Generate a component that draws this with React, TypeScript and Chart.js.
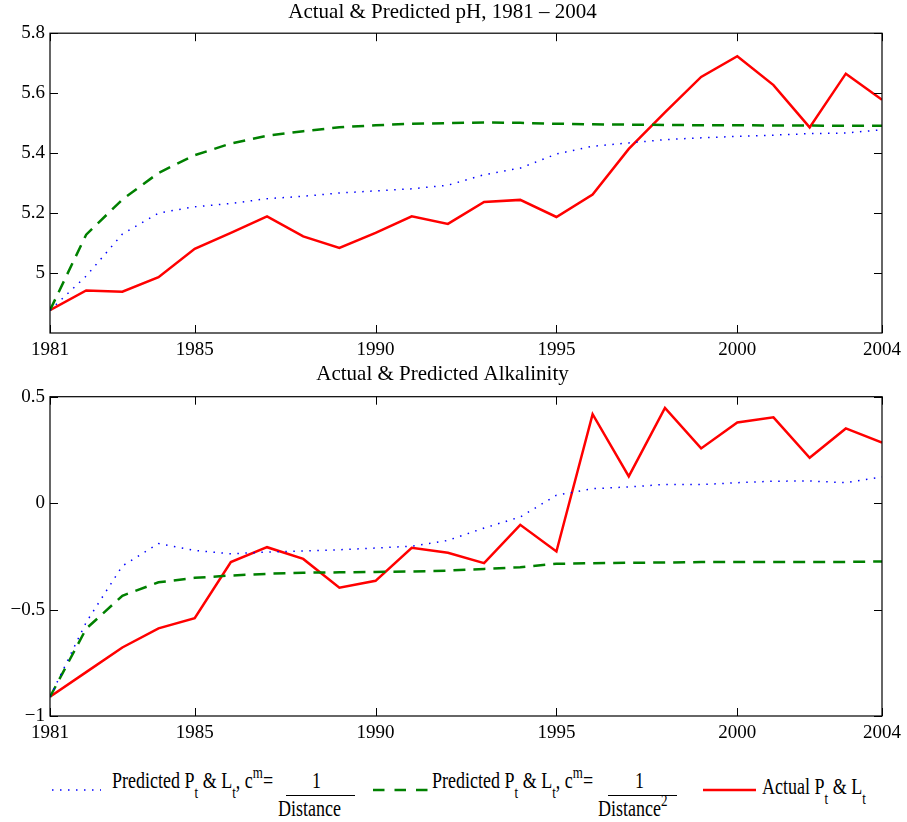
import React, { useEffect, useRef } from 'react';
import { Chart, registerables } from 'chart.js';
Chart.register(...registerables);

const FONT = "'Liberation Serif', 'Times New Roman', serif";

const years = [1981, 1982, 1983, 1984, 1985, 1986, 1987, 1988, 1989, 1990, 1991, 1992,
  1993, 1994, 1995, 1996, 1997, 1998, 1999, 2000, 2001, 2002, 2003, 2004];
const xTicks = [1981, 1985, 1990, 1995, 2000, 2004];

const phActual = [4.876, 4.942, 4.938, 4.986, 5.081, 5.134, 5.189, 5.122, 5.084, 5.134, 5.189, 5.164,
  5.237, 5.244, 5.187, 5.262, 5.414, 5.536, 5.654, 5.723, 5.627, 5.486, 5.665, 5.578];
const phPredDist = [4.876, 4.99, 5.13, 5.2, 5.221, 5.232, 5.248, 5.256, 5.267, 5.274, 5.281, 5.293,
  5.328, 5.35, 5.397, 5.423, 5.434, 5.445, 5.451, 5.456, 5.46, 5.465, 5.467, 5.478];
const phPredDist2 = [4.876, 5.128, 5.245, 5.334, 5.393, 5.432, 5.458, 5.473, 5.486, 5.493, 5.498, 5.5,
  5.502, 5.501, 5.498, 5.496, 5.495, 5.494, 5.493, 5.493, 5.492, 5.492, 5.491, 5.491];
const phYTicks = [5, 5.2, 5.4, 5.6, 5.8];

const alkActual = [-0.91, -0.794, -0.678, -0.588, -0.541, -0.277, -0.207, -0.262, -0.397, -0.365, -0.21, -0.233,
  -0.282, -0.102, -0.227, 0.418, 0.126, 0.447, 0.257, 0.379, 0.403, 0.213, 0.351, 0.285];
const alkPredDist = [-0.91, -0.56, -0.295, -0.19, -0.222, -0.238, -0.23, -0.225, -0.219, -0.211, -0.202, -0.175,
  -0.117, -0.065, 0.037, 0.068, 0.076, 0.088, 0.087, 0.096, 0.103, 0.104, 0.096, 0.123];
const alkPredDist2 = [-0.91, -0.59, -0.435, -0.372, -0.351, -0.34, -0.332, -0.327, -0.325, -0.323, -0.321, -0.317,
  -0.309, -0.301, -0.285, -0.282, -0.28, -0.279, -0.277, -0.277, -0.276, -0.276, -0.276, -0.274];
const alkYTicks = [-1, -0.5, 0, 0.5];

const phTitle = 'Actual & Predicted pH, 1981 \u2013 2004';
const alkTitle = 'Actual & Predicted Alkalinity';

const boxPlugin = {
  id: 'matlabBox',
  afterDraw(chart: any) {
    const { ctx, chartArea: a, scales } = chart;
    const tl = 8;
    ctx.save();
    ctx.strokeStyle = '#000';
    ctx.lineWidth = 1.2;
    ctx.strokeRect(a.left, a.top, a.right - a.left, a.bottom - a.top);
    ctx.beginPath();
    scales.x.ticks.forEach((t: any) => {
      const px = Math.round(scales.x.getPixelForValue(t.value)) + 0.5;
      ctx.moveTo(px, a.top); ctx.lineTo(px, a.top + tl);
      ctx.moveTo(px, a.bottom); ctx.lineTo(px, a.bottom - tl);
    });
    scales.y.ticks.forEach((t: any) => {
      const py = Math.round(scales.y.getPixelForValue(t.value)) + 0.5;
      ctx.moveTo(a.left, py); ctx.lineTo(a.left + tl, py);
      ctx.moveTo(a.right, py); ctx.lineTo(a.right - tl, py);
    });
    ctx.lineWidth = 1;
    ctx.stroke();
    ctx.restore();
  },
};

function fmt(v: number) {
  return String(v).replace('-', '\u2212');
}

function LineChart(props: {
  title: string; actual: number[]; predDist: number[]; predDist2: number[];
  yMin: number; yMax: number; yTicks: number[]; height: number; titleBottom: number;
}) {
  const ref = useRef<HTMLCanvasElement>(null);
  useEffect(() => {
    const mk = (vals: number[]) => years.map((y, i) => ({ x: y, y: vals[i] }));
    const chart = new Chart(ref.current!, {
      type: 'line',
      data: {
        datasets: [
          { data: mk(props.predDist), borderColor: '#0000ff', borderWidth: 1.5, borderDash: [1.5, 6.5], pointRadius: 0, fill: false },
          { data: mk(props.predDist2), borderColor: '#008000', borderWidth: 2.5, borderDash: [12, 8], pointRadius: 0, fill: false },
          { data: mk(props.actual), borderColor: '#ff0000', borderWidth: 2.5, pointRadius: 0, fill: false },
        ],
      },
      options: {
        responsive: false,
        animation: false,
        layout: { padding: { left: 0, right: 22, top: 0, bottom: 0 } },
        plugins: {
          legend: { display: false },
          tooltip: { enabled: false },
          title: {
            display: true, text: props.title, color: '#000',
            font: { family: FONT, size: 21, weight: 'normal' },
            padding: { top: 0, bottom: props.titleBottom },
          },
        },
        scales: {
          x: {
            type: 'linear', min: 1981, max: 2004,
            grid: { display: false, drawTicks: false },
            border: { display: false },
            afterBuildTicks: (s: any) => { s.ticks = xTicks.map((v) => ({ value: v })); },
            afterFit: (s: any) => { s.height = 29; },
            ticks: { color: '#000', font: { family: FONT, size: 19 }, padding: 6, maxRotation: 0, autoSkip: false, callback: (v: any) => String(v) },
          },
          y: {
            type: 'linear', min: props.yMin, max: props.yMax,
            grid: { display: false, drawTicks: false },
            border: { display: false },
            afterBuildTicks: (s: any) => { s.ticks = props.yTicks.map((v) => ({ value: v })); },
            afterFit: (s: any) => { s.width = 50; },
            ticks: { color: '#000', font: { family: FONT, size: 19 }, padding: 5, autoSkip: false, callback: (v: any) => fmt(v) },
          },
        },
      } as any,
      plugins: [boxPlugin],
    });
    return () => chart.destroy();
  }, []);
  return <canvas ref={ref} width={907} height={props.height} style={{ display: 'block', width: 907, height: props.height }} />;
}

const sub = (t: string) => <span style={{ fontSize: 13, position: 'relative', top: 8 }}>{t}</span>;
const sup = (t: string) => <span style={{ fontSize: 13, position: 'relative', top: -7 }}>{t}</span>;

function Abs(p: { x: number; y: number; size?: number; children: any }) {
  return (
    <div style={{ position: 'absolute', left: p.x, top: p.y, fontSize: p.size || 18, lineHeight: '20px', whiteSpace: 'nowrap', fontFamily: FONT, color: '#000', transform: 'scaleY(1.3)', transformOrigin: '50% 50%' }}>
      {p.children}
    </div>
  );
}

function Legend() {
  return (
    <>
      <svg width={907} height={60} style={{ position: 'absolute', left: 0, top: 760 }}>
        <line x1={52} x2={101} y1={30} y2={30} stroke="#0000ff" strokeWidth={1.5} strokeDasharray="1.5 6.5" />
        <line x1={373} x2={428} y1={30} y2={30} stroke="#008000" strokeWidth={2.5} strokeDasharray="11.5 10" />
        <line x1={703} x2={756} y1={30} y2={30} stroke="#ff0000" strokeWidth={2.5} />
      </svg>
      <Abs x={112} y={770}>Predicted P{sub('t')} &amp; L{sub('t')}, c{sup('m')}=</Abs>
      <Abs x={312} y={770}>1</Abs>
      <div style={{ position: 'absolute', left: 286, top: 795, width: 69, borderTop: '1px solid #000' }} />
      <Abs x={278} y={798}>Distance</Abs>

      <Abs x={432} y={770}>Predicted P{sub('t')} &amp; L{sub('t')}, c{sup('m')}=</Abs>
      <Abs x={635} y={770}>1</Abs>
      <div style={{ position: 'absolute', left: 608, top: 795, width: 69, borderTop: '1px solid #000' }} />
      <Abs x={598} y={798}>Distance{sup('2')}</Abs>

      <Abs x={762} y={776}>Actual P{sub('t')} &amp; L{sub('t')}</Abs>
    </>
  );
}

export default function App() {
  return (
    <div style={{ position: 'absolute', left: 0, top: 0, width: 907, height: 822, background: '#fff', overflow: 'hidden' }}>
      <div style={{ position: 'absolute', left: 0, top: 0 }}>
        <LineChart title={phTitle} actual={phActual} predDist={phPredDist} predDist2={phPredDist2}
          yMin={4.8} yMax={5.8} yTicks={phYTicks} height={362} titleBottom={8} />
      </div>
      <div style={{ position: 'absolute', left: 0, top: 362 }}>
        <LineChart title={alkTitle} actual={alkActual} predDist={alkPredDist} predDist2={alkPredDist2}
          yMin={-1} yMax={0.5} yTicks={alkYTicks} height={383} titleBottom={9.5} />
      </div>
      <Legend />
    </div>
  );
}
